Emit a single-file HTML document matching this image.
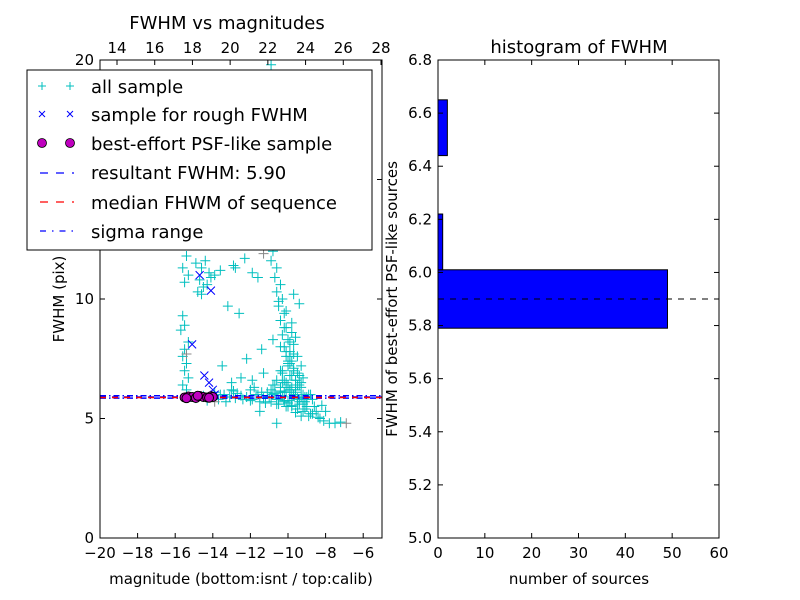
<!DOCTYPE html>
<html><head><meta charset="utf-8"><style>
body{margin:0;background:#fff;}
svg{display:block;font-family:"DejaVu Sans","Liberation Sans",sans-serif;}
</style></head><body>
<svg id="fig" width="800" height="600" viewBox="0 0 800 600">
<rect x="0" y="0" width="800" height="600" fill="#fff"/>
<g id="left"></g>
<g id="right"></g>
</svg>
<script>
// ---- scatter data ----
const allMag = [-15.5,-15.4,-15.6,-15.3,-15.5,-15.6,-15.5,-15.7,-15.3,-15.5,-15.6,-15.4,-15.5,-15.3,-15.6,-15.4,
-14.9,-14.6,-14.4,-14.7,-14.2,-14.5,-14.8,-14.3,-13.9,-14.6,-14.1,-13.6,-12.8,-12.3,-11.9,
-13.2,-12.9,-11.6,-12.6,-13.5,-12.5,-13.0,-11.9,-12.2,-11.4,-11.3,-10.8,
-11.0,-10.8,-10.9,-10.6,-10.7,-10.4,-10.6,-10.3,-10.5,-10.2,-10.4,-10.1,-10.3,-10.0,-10.2,-9.9,-10.1,-9.8,-10.0,-9.7,-10.3,-9.9,-10.6,-9.6,-10.1,-9.5,-10.4,-9.8,-9.3,-9.9,-10.2,-9.6,-9.4,-9.7,-10.0,-9.2,-9.5,-9.8,
-15.2,-14.9,-14.5,-14.0,-13.7,-13.4,-13.1,-12.8,-12.5,-12.2,-11.9,-11.6,-11.3,-11.0,-10.7,-10.5,-10.3,-10.1,-9.9,-9.7,-9.5,-9.3,-9.1,-8.9,-8.7,-13.9,-13.3,-12.7,-12.0,-11.4,-10.9,-10.4,-10.0,-9.6,-9.2,-8.8,-11.2,-10.6,-10.2,-9.8,-9.4,
-9.8,-9.5,-9.2,-9.0,-8.7,-8.5,-8.3,-8.1,-7.8,-7.5,-7.2,-9.3,-8.8,-8.4,-8.0,-9.6,-10.6,-11.5,-10.9,-11.1,-10.5,
-10.8,-10.6,-10.4,-10.2,-10.0,-9.8,-9.6,-9.4,-9.2,-9.0,-10.7,-10.5,-10.3,-10.1,-9.9,-9.7,-9.5,-9.3,-9.1,-10.9,-10.2,-9.8,-9.4,-10.4,-10.0,-9.6,-9.2,-9.9,-10.1,-9.7,
-10.3,-10.0,-9.7,-9.5,-9.9,-10.2,-9.6,-9.8,-10.1,-9.4,-10.5,-9.7,-10.0,-9.3,-9.9,-10.4,
-12.0,-11.7,-11.5,-11.1,-12.4,-13.0,-13.6,-14.3,-12.9,-11.8,-10.8,-9.0,-8.6,-8.9,-9.1,-8.2];
const allFwhm = [12.3,11.8,11.3,11.0,10.7,9.3,8.9,8.7,8.2,7.9,7.6,7.3,7.0,6.7,6.4,6.2,
11.5,11.3,11.6,10.8,11.1,10.5,10.3,10.6,11.0,10.2,10.9,11.2,11.3,11.7,11.1,
9.7,11.4,10.9,9.4,7.2,6.7,6.5,6.6,7.5,7.9,6.9,8.3,
12.4,12.0,11.6,11.3,10.9,10.6,10.3,10.0,9.7,9.4,9.1,8.8,8.5,8.3,8.0,7.8,7.6,7.4,7.2,7.0,6.9,6.8,6.6,6.6,6.5,6.4,6.3,6.3,6.5,6.2,6.1,6.1,6.8,7.1,7.3,6.7,7.6,8.6,
5.9,5.85,5.95,5.9,5.8,6.0,5.9,5.85,5.95,5.9,5.8,6.0,5.85,5.9,6.05,5.8,5.95,6.1,5.75,6.0,5.85,5.9,5.7,6.0,5.8,6.1,5.7,6.05,5.75,6.1,5.7,6.15,5.65,6.2,5.6,6.0,5.65,5.6,5.75,5.55,5.7,
5.5,5.4,5.3,5.5,5.2,5.3,5.0,4.9,4.8,4.8,4.85,5.1,5.2,5.05,5.3,5.25,4.8,5.3,19.8,13.5,12.9,
6.0,5.8,6.1,5.7,6.3,5.9,6.2,5.6,6.0,5.8,6.4,5.6,6.5,5.5,6.2,6.0,5.8,6.3,5.9,6.2,6.6,6.8,6.4,7.0,5.5,6.6,5.7,7.3,7.8,8.1,
7.0,7.4,7.7,6.9,8.2,8.8,8.4,9.0,9.5,9.8,9.9,10.2,6.4,7.2,7.6,8.0,
6.2,6.0,5.7,6.1,5.8,6.2,6.0,5.75,6.15,6.3,6.4,5.9,5.5,5.1,5.4,5.55];
const grayMag = [-15.4,-11.3,-6.9,-13.9];
const grayFwhm = [7.7,11.9,4.8,5.7];
const roughMag = [-14.7,-14.1,-15.1,-14.45,-14.2,-14.0,-13.9];
const roughFwhm = [11.0,10.35,8.1,6.8,6.5,6.2,6.0];
const bestMag = [-15.5,-15.3,-15.1,-14.9,-14.7,-14.5,-14.3,-14.1,-14.0,-15.4,-14.8,-14.2];
const bestFwhm = [5.88,5.92,5.9,5.86,5.94,5.9,5.88,5.93,5.9,5.85,5.95,5.87];
const resultFwhm = 5.90, medianFwhm = 5.88, sigmaLo = 5.85, sigmaHi = 5.95;
const xTicks = [-20,-18,-16,-14,-12,-10,-8,-6];
const yTicks = [0,5,10,15,20];
const topTicks = [14,16,18,20,22,24,26,28];
// ---- histogram data ----
const binEdges = [5.79,6.01,6.22,6.44,6.65];
const binCounts = [49,1,0,2];
const hxTicks = [0,10,20,30,40,50,60];
const hyTicks = [5.0,5.2,5.4,5.6,5.8,6.0,6.2,6.4,6.6,6.8];

const NS='http://www.w3.org/2000/svg';
function mk(parent,tag,attrs,txt){const e=document.createElementNS(NS,tag);for(const k in attrs)e.setAttribute(k,attrs[k]);if(txt!==undefined)e.textContent=txt;parent.appendChild(e);return e;}

const L={x0:100,x1:382,y0:538,y1:60};
const sx=m=>L.x0+(m+20)/15*(L.x1-L.x0);
const sy=f=>L.y0-f/20*(L.y0-L.y1);
const stx=c=>117+(c-14)*18.857;
const lg=document.getElementById('left');

function hline(v,color,dash,name){
  const l=mk(lg,'line',{x1:L.x0,x2:L.x1,y1:sy(v),y2:sy(v),stroke:color,'stroke-width':1.5,'stroke-dasharray':dash});
  
  
}
for(let i=0;i<allMag.length;i++){
  const x=sx(allMag[i]),y=sy(allFwhm[i]);
  const p=mk(lg,'path',{d:`M${x-5},${y}H${x+5}M${x},${y-5}V${y+5}`,stroke:'#00bfbf','stroke-width':1});
  
  
}
for(let i=0;i<grayMag.length;i++){
  const x=sx(grayMag[i]),y=sy(grayFwhm[i]);
  const p=mk(lg,'path',{d:`M${x-5},${y}H${x+5}M${x},${y-5}V${y+5}`,stroke:'#888','stroke-width':1});
  
  
}
hline(sigmaLo,'#0000ff','6 3 1.5 3','sigma-range-low');
hline(sigmaHi,'#0000ff','6 3 1.5 3','sigma-range-high');
hline(resultFwhm,'#0000ff','6 6','resultant-fwhm-line');
hline(medianFwhm,'#ff0000','6 6','median-fwhm-line');
for(let i=0;i<roughMag.length;i++){
  const x=sx(roughMag[i]),y=sy(roughFwhm[i]);
  const p=mk(lg,'path',{d:`M${x-4},${y-4}L${x+4},${y+4}M${x-4},${y+4}L${x+4},${y-4}`,stroke:'#0000ff','stroke-width':1});
  
  
}
for(let i=0;i<bestMag.length;i++){
  const c=mk(lg,'circle',{cx:sx(bestMag[i]),cy:sy(bestFwhm[i]),r:4.5,fill:'#bf00bf',stroke:'#000','stroke-width':1});
  
  
}
mk(lg,'rect',{x:L.x0,y:L.y1,width:L.x1-L.x0,height:L.y0-L.y1,fill:'none',stroke:'#000','stroke-width':1});
xTicks.forEach(t=>{const x=sx(t);
  mk(lg,'line',{x1:x,x2:x,y1:L.y0,y2:L.y0-5,stroke:'#000'});
  const e=mk(lg,'text',{x:x,y:L.y0+20,'text-anchor':'middle','font-size':15},(t<0?'\u2212':'')+Math.abs(t));
  
  
});
topTicks.forEach(t=>{const x=stx(t);
  mk(lg,'line',{x1:x,x2:x,y1:L.y1,y2:L.y1+5,stroke:'#000'});
  const e=mk(lg,'text',{x:x,y:L.y1-7,'text-anchor':'middle','font-size':15},t);
  
  
});
yTicks.forEach(t=>{const y=sy(t);
  mk(lg,'line',{x1:L.x0,x2:L.x0+5,y1:y,y2:y,stroke:'#000'});
  mk(lg,'line',{x1:L.x1,x2:L.x1-5,y1:y,y2:y,stroke:'#000'});
  const e=mk(lg,'text',{x:L.x0-6,y:y+5,'text-anchor':'end','font-size':15},t);
  
  
});

const R={x0:438,x1:719,y0:538,y1:60};
const hx=v=>R.x0+v/60*(R.x1-R.x0);
const hy=v=>R.y0-(v-5.0)/1.8*(R.y0-R.y1);
const rg=document.getElementById('right');
for(let i=0;i<binCounts.length;i++){
  if(binCounts[i]<=0)continue;
  const b=mk(rg,'rect',{x:R.x0,y:hy(binEdges[i+1]),width:hx(binCounts[i])-R.x0,height:hy(binEdges[i])-hy(binEdges[i+1]),fill:'#0000ff',stroke:'#000','stroke-width':1});
  
  
}
const dl=mk(rg,'line',{x1:R.x0,x2:R.x1,y1:hy(resultFwhm),y2:hy(resultFwhm),stroke:'#000','stroke-width':1,'stroke-dasharray':'6 6'});


mk(rg,'rect',{x:R.x0,y:R.y1,width:R.x1-R.x0,height:R.y0-R.y1,fill:'none',stroke:'#000','stroke-width':1});
hxTicks.forEach(t=>{const x=hx(t);
  mk(rg,'line',{x1:x,x2:x,y1:R.y0,y2:R.y0-5,stroke:'#000'});
  mk(rg,'line',{x1:x,x2:x,y1:R.y1,y2:R.y1+5,stroke:'#000'});
  const e=mk(rg,'text',{x:x,y:R.y0+20,'text-anchor':'middle','font-size':15},t);
  
  
});
hyTicks.forEach(t=>{const y=hy(t);
  mk(rg,'line',{x1:R.x0,x2:R.x0+5,y1:y,y2:y,stroke:'#000'});
  mk(rg,'line',{x1:R.x1,x2:R.x1-5,y1:y,y2:y,stroke:'#000'});
  const e=mk(rg,'text',{x:R.x0-6,y:y+5,'text-anchor':'end','font-size':15},t.toFixed(1));
  
  
});
</script>
<svg width="800" height="600" viewBox="0 0 800 600" style="position:absolute;left:0;top:0;font-family:'DejaVu Sans','Liberation Sans',sans-serif">
<text x="227" y="29" text-anchor="middle" font-size="18">FWHM vs magnitudes</text>
<text x="579" y="53" text-anchor="middle" font-size="18">histogram of FWHM</text>
<text x="241" y="584" text-anchor="middle" font-size="15">magnitude (bottom:isnt / top:calib)</text>
<text x="579" y="584" text-anchor="middle" font-size="15">number of sources</text>
<text transform="translate(64,299) rotate(-90)" text-anchor="middle" font-size="15">FWHM (pix)</text>
<text transform="translate(397,299) rotate(-90)" text-anchor="middle" font-size="15">FWHM of best-effort PSF-like sources</text>
<g>
<rect x="27" y="70" width="345" height="180" fill="#fff" stroke="#000" stroke-width="1"/>
<g stroke="#00bfbf" stroke-width="1"><path d="M38,86H46M42,82V90M66,86H74M70,82V90"/></g>
<g stroke="#0000ff" stroke-width="1"><path d="M39,111L45,117M39,117L45,111M67,111L73,117M67,117L73,111"/></g>
<circle cx="42" cy="143" r="4.5" fill="#bf00bf" stroke="#000" stroke-width="0.8"/>
<circle cx="70" cy="143" r="4.5" fill="#bf00bf" stroke="#000" stroke-width="0.8"/>
<line x1="40" x2="74" y1="173" y2="173" stroke="#0000ff" stroke-width="1.3" stroke-dasharray="8 8"/>
<line x1="40" x2="74" y1="202" y2="202" stroke="#ff0000" stroke-width="1.3" stroke-dasharray="8 8"/>
<line x1="40" x2="74" y1="231" y2="231" stroke="#0000ff" stroke-width="1.3" stroke-dasharray="6 6 1.5 6"/>
<g font-size="18" fill="#000">
<text x="91" y="93">all sample</text>
<text x="91" y="121">sample for rough FWHM</text>
<text x="91" y="150">best-effort PSF-like sample</text>
<text x="91" y="179">resultant FWHM: 5.90</text>
<text x="91" y="209">median FHWM of sequence</text>
<text x="91" y="238">sigma range</text>
</g>
</g>
</svg>
</body></html>
